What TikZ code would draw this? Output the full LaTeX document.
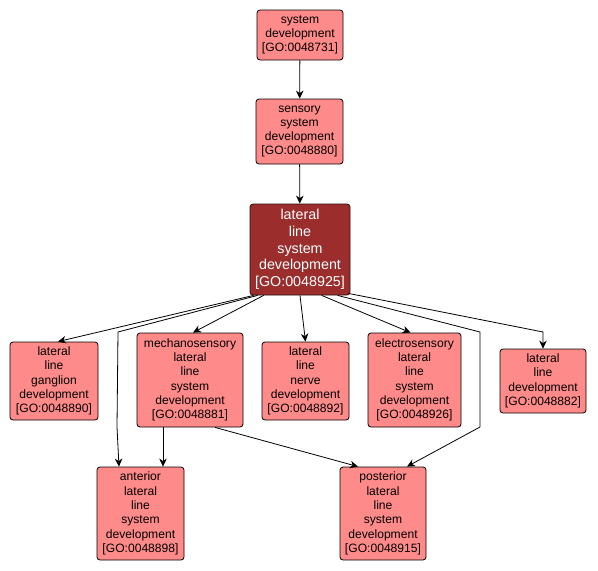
\documentclass[tikz,border=0pt]{standalone}
\usepackage{fontspec}
\setmainfont{Liberation Sans}
\usetikzlibrary{arrows.meta,calc}
\definecolor{gofill}{RGB}{255,138,138}
\definecolor{godark}{RGB}{155,45,45}
\tikzset{
  goterm/.style={draw=black, fill=gofill, rounded corners=3pt, inner sep=0pt, align=center,
    font=\fontsize{12.1}{14.3}\selectfont, text=black, line width=0.8pt,
    execute at begin node={\rule{0pt}{12.6pt}}},
  gomain/.style={draw=black!70!godark, fill=godark, rounded corners=3pt, inner sep=0pt, align=center,
    font=\fontsize{14.3}{16.7}\selectfont, text=white, line width=0.8pt,
    execute at begin node={\rule{0pt}{14.4pt}}},
  edge/.style={draw=black, line width=0.8pt, -{Stealth[length=8pt,width=7.5pt,inset=2.5pt]}}
}
\begin{document}
\begin{tikzpicture}[x=1pt,y=-1pt]
\useasboundingbox (0,0) rectangle (598,571);
\node[goterm, minimum width=86, minimum height=50] (sd) at (300,35) {system\\development\\{}[GO:0048731]};
\node[goterm, minimum width=87, minimum height=65] (ssd) at (299.5,131.5) {sensory\\system\\development\\{}[GO:0048880]};
\node[gomain, minimum width=100, minimum height=91] (llsd) at (300,249.5) {lateral\\line\\system\\development\\{}[GO:0048925]};
\node[goterm, minimum width=88, minimum height=78] (gang) at (54,381) {lateral\\line\\ganglion\\development\\{}[GO:0048890]};
\node[goterm, minimum width=106, minimum height=94] (mech) at (190,380) {mechanosensory\\lateral\\line\\system\\development\\{}[GO:0048881]};
\node[goterm, minimum width=87, minimum height=78] (nerve) at (305.5,381) {lateral\\line\\nerve\\development\\{}[GO:0048892]};
\node[goterm, minimum width=93, minimum height=94] (elec) at (414.5,380) {electrosensory\\lateral\\line\\system\\development\\{}[GO:0048926]};
\node[goterm, minimum width=86, minimum height=64] (lld) at (543,381) {lateral\\line\\development\\{}[GO:0048882]};
\node[goterm, minimum width=87, minimum height=93] (ant) at (140.5,513.5) {anterior\\lateral\\line\\system\\development\\{}[GO:0048898]};
\node[goterm, minimum width=86, minimum height=93] (post) at (383,513.5) {posterior\\lateral\\line\\system\\development\\{}[GO:0048915]};

\draw[edge] (sd) -- (ssd);
\draw[edge] (ssd) -- (llsd);
\draw[edge] ($(llsd.south west)+(4,0)$) -- ($(gang.north)+(4,0)$);
\draw[edge] ($(llsd.south west)+(8,0)$) -- (118,332) -- (117,427) -- ($(ant.north)+(-21.5,0)$);
\draw[edge] ($(llsd.south west)+(14,0)$) -- ($(mech.north)+(3,0)$);
\draw[edge] (llsd.south) -- (nerve.north);
\draw[edge] ($(llsd.south west)+(72,0)$) -- ($(elec.north)+(-4,0)$);
\draw[edge] ($(llsd.south west)+(88,0)$) -- (480,332) -- (480,427) -- ($(post.north)+(24,0)$);
\draw[edge] ($(llsd.south east)+(-2,-2)$) -- (543,332) -- (lld.north);
\draw[edge] ($(mech.south)+(-27,0)$) -- ($(ant.north)+(22.5,0)$);
\draw[edge] ($(mech.south)+(25,0)$) -- ($(post.north)+(-25,0)$);
\end{tikzpicture}
\end{document}
